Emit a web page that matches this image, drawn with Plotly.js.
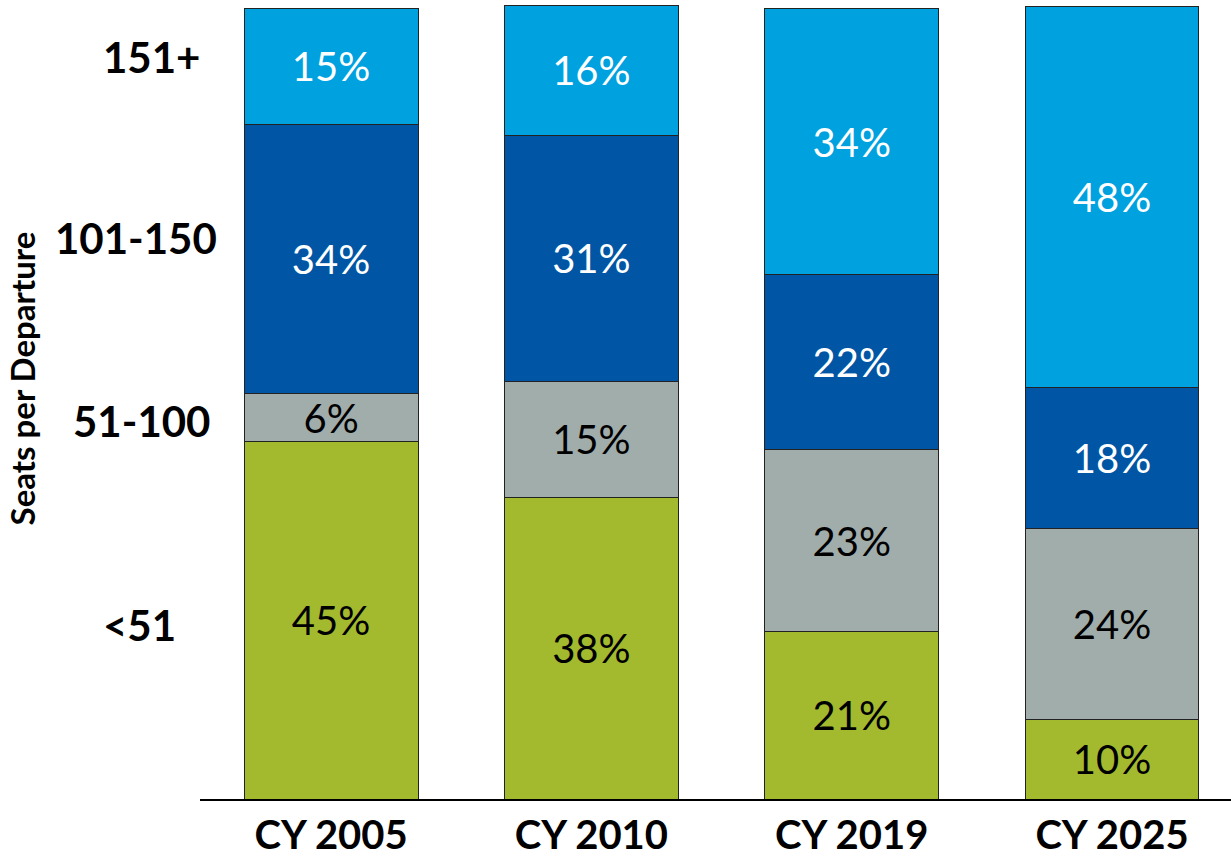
<!DOCTYPE html>
<html>
<head>
<meta charset="utf-8">
<script src="https://cdn.plot.ly/plotly-3.0.1.min.js"></script>
<style>
html,body{margin:0;padding:0;background:#fff;}
#chart{width:1231px;height:859px;}
</style>
</head>
<body>
<div id="chart"></div>
<script>
// ---- data ----
var years = ["CY 2005", "CY 2010", "CY 2019", "CY 2025"];
var seatClasses = ["<51", "51-100", "101-150", "151+"];
var under51 = [45.1, 38.1, 21.1, 10.1];
var s51to100 = [6.1, 14.6, 23.0, 24.0];
var s101to150 = [34.0, 31.1, 22.1, 17.9];
var s151plus = [14.6, 16.4, 33.6, 48.1];
var yTitle = "Seats per Departure";

// ---- styling ----
var FONT = "Lato, 'Open Sans', sans-serif";
var series = [under51, s51to100, s101to150, s151plus];
var colors = ["#A3B92E", "#A0ADAB", "#0056A4", "#00A1DF"];
var textColors = ["#000000", "#000000", "#FFFFFF", "#FFFFFF"];

var traces = series.map(function (vals, i) {
  return {
    type: "bar",
    name: seatClasses[i],
    x: years,
    y: vals,
    marker: {color: colors[i], line: {color: "#222222", width: 1}},
    texttemplate: "%{y:.0f}%",
    textposition: "inside",
    insidetextanchor: "middle",
    textangle: 0,
    constraintext: "none",
    insidetextfont: {family: FONT, size: 40, color: textColors[i]},
    hoverinfo: "skip"
  };
});

// label positions (layout only)
var labelY = [22.0, 47.7, 70.8, 93.7];
var labelX = [-0.0587, -0.0572, -0.0616, -0.0475];
var annotations = seatClasses.map(function (t, i) {
  return {
    text: "<b>" + t + "</b>",
    xref: "paper", yref: "y",
    x: labelX[i], y: labelY[i],
    xanchor: "center", yanchor: "middle",
    showarrow: false,
    font: {family: FONT, size: 42, color: "#000"}
  };
});
annotations.push({
  text: "<b>" + yTitle + "</b>",
  xref: "paper", yref: "y",
  x: -0.1727, y: 53.1,
  xanchor: "center", yanchor: "middle",
  textangle: -90,
  showarrow: false,
  font: {family: FONT, size: 33, color: "#000"}
});

var layout = {
  width: 1231, height: 859,
  margin: {l: 200, r: 0, t: 3, b: 60},
  paper_bgcolor: "#fff", plot_bgcolor: "#fff",
  barmode: "stack",
  bargap: 0.332,
  showlegend: false,
  xaxis: {
    type: "category",
    range: [-0.5035, 3.457],
    showline: true, linecolor: "#000", linewidth: 2,
    ticks: "", showgrid: false, zeroline: false,
    tickfont: {family: FONT, size: 40, color: "#000"},
    tickvals: years,
    ticktext: years.map(function (y) { return "<b>" + y + "</b>"; })
  },
  yaxis: {
    range: [0, 100.5],
    showticklabels: false, showgrid: false, zeroline: false, showline: false, ticks: ""
  },
  annotations: annotations
};

Plotly.newPlot("chart", traces, layout, {displayModeBar: false, staticPlot: true});
</script>
</body>
</html>
